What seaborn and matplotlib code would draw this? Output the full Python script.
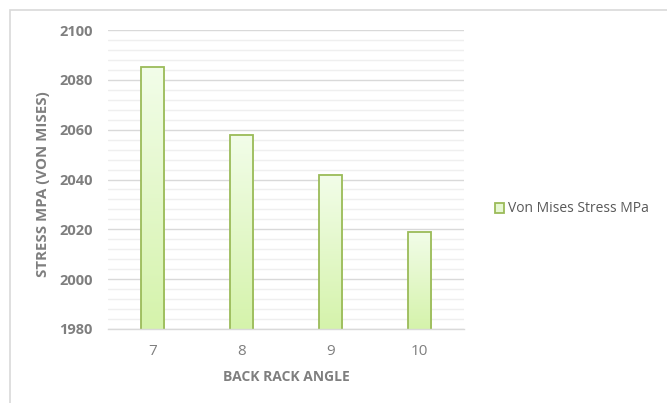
import numpy as np
import pandas as pd
import matplotlib
matplotlib.use("Agg")
import matplotlib.pyplot as plt
from matplotlib.patches import Rectangle, Patch
from matplotlib.ticker import MultipleLocator
import seaborn as sns

# --- data ---
angles = ["7", "8", "9", "10"]
stress = [2085, 2058, 2042, 2019]
series_name = "Von Mises Stress MPa"

df = pd.DataFrame({"angle": angles, "stress": stress})

sns.set_theme(style="white")
plt.rcParams["font.family"] = ["Open Sans", "DejaVu Sans"]

text_grey = "#7f7f7f"
edge_green = "#9bbb59"
y_min, y_max = 1980, 2100

fig = plt.figure(figsize=(6.67, 4.03), dpi=100)
W, H = 667, 403
ax = fig.add_axes([108 / W, 1 - 329 / H, (464 - 108) / W, (329 - 30) / H])

# outer chart border
fig.patches.append(Rectangle((10 / W, -0.1), 1.2, 1 - 10 / H + 0.1, transform=fig.transFigure,
                             fill=False, edgecolor="#d9d9d9", linewidth=1.2))

sns.barplot(data=df, x="angle", y="stress", ax=ax, width=0.26,
            color="#e6f7d2", edgecolor=edge_green, linewidth=1.3, zorder=3)

ax.yaxis.set_major_locator(MultipleLocator(20))
ax.yaxis.set_minor_locator(MultipleLocator(4))
ax.grid(which="major", axis="y", color="#d9d9d9", linewidth=1.0, zorder=0)
ax.grid(which="minor", axis="y", color="#efefef", linewidth=1.0, zorder=0)
ax.set_axisbelow(True)

# gradient fill in the bars (light on top, greener at the bottom)
grad = np.linspace(0, 1, 256).reshape(-1, 1)
cmap = matplotlib.colors.LinearSegmentedColormap.from_list("g", ["#f2fde9", "#d5f3ab"])
for p in ax.patches:
    x0 = p.get_x()
    w = p.get_width()
    top = p.get_y() + p.get_height()
    ax.imshow(grad, cmap=cmap, aspect="auto", extent=(x0, x0 + w, y_min, top),
              origin="upper", zorder=3.5)
    p.set_zorder(4)
    p.set_facecolor("none")
ax.set_xlim(-0.5, len(angles) - 0.5)
ax.set_ylim(y_min, y_max)

for s in ["top", "right", "left"]:
    ax.spines[s].set_visible(False)
ax.spines["bottom"].set_color("#d9d9d9")
ax.spines["bottom"].set_linewidth(1.0)
ax.spines["bottom"].set_zorder(5)

ax.tick_params(axis="both", which="both", length=0)
ax.tick_params(axis="y", labelsize=10.5, labelcolor=text_grey, pad=11)
ax.tick_params(axis="x", labelsize=11, labelcolor=text_grey, pad=11)
for lab in ax.get_yticklabels():
    lab.set_fontweight("bold")

ax.set_xlabel("BACK RACK ANGLE", fontsize=10, fontweight="bold", color=text_grey)
ax.set_ylabel("STRESS MPA (VON MISES)", fontsize=10.8, fontweight="bold", color=text_grey)
ax.xaxis.set_label_coords(0.5, (329 - 377) / 299, transform=ax.transAxes)
ax.yaxis.set_label_coords((43 - 108) / 356, (329 - 184) / 299, transform=ax.transAxes)
ax.xaxis.label.set_va("center")
ax.yaxis.label.set_va("center")

handle = Patch(facecolor="#e6f7d2", edgecolor=edge_green, linewidth=1.3)
fig.legend([handle], [series_name], loc="center left", bbox_to_anchor=(489 / W, 1 - 209 / H),
           frameon=False, fontsize=10, labelcolor="#595959", handlelength=0.7,
           handleheight=0.7, handletextpad=0.3, borderaxespad=0)

fig.savefig("out.png", dpi=100)
